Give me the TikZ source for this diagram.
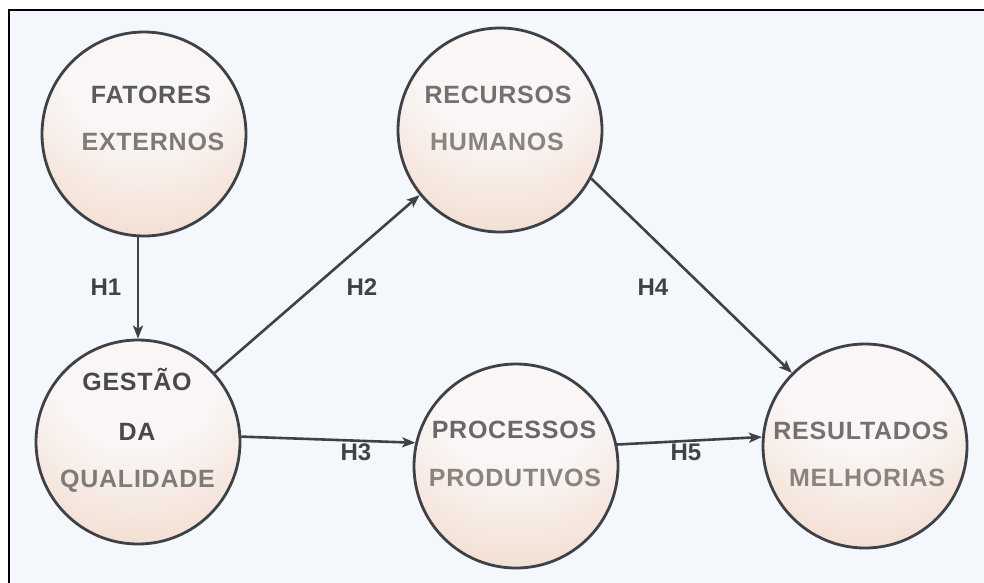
\documentclass[tikz,border=0pt]{standalone}
\usepackage{fontspec}
\setmainfont{Liberation Sans}
\newfontfamily\ballfont[LetterSpace=3]{Liberation Sans}
\usetikzlibrary{arrows.meta}

\definecolor{pagebg}{HTML}{F4F7FC}
\definecolor{edgegray}{HTML}{3E4146}
\definecolor{ballin}{HTML}{F9F6F5}
\definecolor{ballout}{HTML}{EAB594}
\definecolor{hlabel}{HTML}{3F4246}
\definecolor{txtA}{HTML}{46484B}
\definecolor{txtB}{HTML}{5A5A5B}
\definecolor{txtC}{HTML}{6B6766}
\definecolor{txtD}{HTML}{74706E}
\definecolor{txtE}{HTML}{807A76}
\definecolor{txtF}{HTML}{8A837E}

% warm sphere-like fill, light in the upper part, deeper towards the bottom rim
\pgfdeclareradialshading{peachball}{\pgfpoint{0bp}{26bp}}{%
  color(0bp)=(ballin); color(22bp)=(ballin); color(76bp)=(ballout); color(100bp)=(ballout)}

\tikzset{
  ball/.style={circle, draw=edgegray, line width=2.8pt, minimum size=204pt,
    inner sep=0pt, shade, shading=peachball},
  balltext/.style={anchor=base, font=\ballfont\fontsize{25}{26}\selectfont\bfseries},
  hyp/.style={anchor=base, text=hlabel, font=\fontsize{24}{26}\selectfont\bfseries},
  link/.style={draw=edgegray, line width=2.6pt,
    -{Stealth[length=13pt, width=10pt, inset=3pt]}}
}

\begin{document}
\begin{tikzpicture}[x=1pt, y=-1pt]
\useasboundingbox (0,0) rectangle (984,582);
\fill[white] (0,0) rectangle (984,582);
\clip (0,0) rectangle (984,582);
% panel with frame
\filldraw[fill=pagebg, draw=black, line width=2.6pt] (9,10) rectangle (1000,600);

% constructs
\node[ball] (fat) at (144,134) {};
\node[ball] (ges) at (138,442) {};
\node[ball] (rec) at (500,130) {};
\node[ball] (pro) at (516,466) {};
\node[ball] (res) at (865,446) {};

% construct names
\node[balltext, text=txtB] (fat1) at (151,103) {FATORES};
\node[balltext, text=txtE] (fat2) at (153,150) {EXTERNOS};
\node[balltext, text=txtA] (ges1) at (137,390) {GESTÃO};
\node[balltext, text=txtA] (ges2) at (137,440) {DA};
\node[balltext, text=txtE] (ges3) at (137.5,487) {QUALIDADE};
\node[balltext, text=txtD] (rec1) at (498,103) {RECURSOS};
\node[balltext, text=txtF] (rec2) at (497,150) {HUMANOS};
\node[balltext, text=txtC] (pro1) at (514,438) {PROCESSOS};
\node[balltext, text=txtF] (pro2) at (515,486) {PRODUTIVOS};
\node[balltext, text=txtD] (res1) at (861,439) {RESULTADOS};
\node[balltext, text=txtF] (res2) at (867,486) {MELHORIAS};

% hypotheses
\draw[link] (ges.north |- fat.south) -- (ges.north);
\draw[link] (ges.42) -- (rec.219);
\draw[link] (ges.3.4) -- (pro.167);
\draw[link] (rec.-28.5) -- (res.135.4);
\draw[link] (pro.12.9) -- (res.175);

\node[hyp] (h1) at (106,295) {H1};
\node[hyp] (h2) at (362,295) {H2};
\node[hyp] (h3) at (356,460) {H3};
\node[hyp] (h4) at (653,295) {H4};
\node[hyp] (h5) at (686,460) {H5};
\end{tikzpicture}
\end{document}
